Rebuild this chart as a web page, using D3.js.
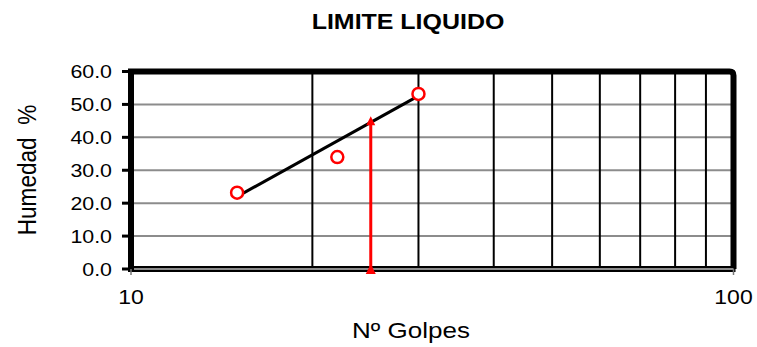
<!DOCTYPE html>
<html>
<head>
<meta charset="utf-8">
<script src="https://cdn.jsdelivr.net/npm/d3@7"></script>
<style>
  html, body { margin: 0; padding: 0; background: #fff; }
  svg { display: block; }
  text { font-family: "Liberation Sans", Arial, sans-serif; fill: #000; }
</style>
</head>
<body>
<svg id="chart" width="757" height="347"></svg>
<script>
// Ensayo de límite líquido: número de golpes vs. humedad
const golpes = [15, 22, 30];
const humedad = [23.2, 34.0, 53.2];

// Recta de fluidez (extremos)
const trendGolpes = [15, 30];
const trendHumedad = [22.0, 52.6];

// Límite líquido a 25 golpes
const llGolpes = 25;
const llHumedad = 44.0;

const yTicks = [0, 10, 20, 30, 40, 50, 60];
const yTickLabels = ["0.0", "10.0", "20.0", "30.0", "40.0", "50.0", "60.0"];
const xGrid = [20, 30, 40, 50, 60, 70, 80, 90];
const xTicks = [10, 100];
const xTickLabels = ["10", "100"];

// Text in this chart is drawn slightly wide
const SX = 1.15;

const svg = d3.select("#chart");

const x = d3.scaleLog().domain([10, 100]).range([131, 733.5]);
const y = d3.scaleLinear().domain([0, 60]).range([269, 71.5]);

// Horizontal grid (gray)
svg.append("g")
  .selectAll("line")
  .data(yTicks.filter(v => v > 0 && v < 60))
  .join("line")
  .attr("x1", x(10)).attr("x2", x(100))
  .attr("y1", d => y(d)).attr("y2", d => y(d))
  .attr("stroke", "#8c8c8c").attr("stroke-width", 2);

// Vertical grid (black)
svg.append("g")
  .selectAll("line")
  .data(xGrid)
  .join("line")
  .attr("x1", d => x(d)).attr("x2", d => x(d))
  .attr("y1", y(60)).attr("y2", y(0))
  .attr("stroke", "#000").attr("stroke-width", 2);

// Plot frame: top, left, right
svg.append("path")
  .attr("d", `M${x(10)},${y(0)} L${x(10)},${y(60)} L${x(100) - 4},${y(60)} Q${x(100)},${y(60)} ${x(100)},${y(60) + 4} L${x(100)},${y(0)}`)
  .attr("fill", "none").attr("stroke", "#000").attr("stroke-width", 6)
  .attr("stroke-linejoin", "miter");

// Bottom axis: black band with gray core
svg.append("line")
  .attr("x1", x(10) - 3).attr("x2", x(100) + 2)
  .attr("y1", y(0)).attr("y2", y(0))
  .attr("stroke", "#000").attr("stroke-width", 6);
svg.append("line")
  .attr("x1", x(10) + 3).attr("x2", x(100))
  .attr("y1", y(0)).attr("y2", y(0))
  .attr("stroke", "#8c8c8c").attr("stroke-width", 2);

// Y tick marks and labels
const yAxis = svg.append("g");
yAxis.selectAll("line")
  .data(yTicks)
  .join("line")
  .attr("x1", x(10) - 9).attr("x2", x(10))
  .attr("y1", d => y(d)).attr("y2", d => y(d))
  .attr("stroke", "#000").attr("stroke-width", 3);
yAxis.selectAll("text")
  .data(yTicks)
  .join("text")
  .attr("transform", d => `translate(112,${y(d)}) scale(${SX},1)`)
  .attr("dy", "0.35em")
  .attr("text-anchor", "end")
  .attr("font-size", 18.6)
  .text((d, i) => yTickLabels[i]);

// X tick marks and labels
const xAxis = svg.append("g");
xAxis.selectAll("line")
  .data(xTicks)
  .join("line")
  .attr("x1", d => x(d)).attr("x2", d => x(d))
  .attr("y1", y(0)).attr("y2", y(0) + 6)
  .attr("stroke", "#777").attr("stroke-width", 1.5);
xAxis.selectAll("text")
  .data(xTicks)
  .join("text")
  .attr("transform", d => `translate(${x(d)},297) scale(${SX},1)`)
  .attr("dy", "0.35em")
  .attr("text-anchor", "middle")
  .attr("font-size", 20)
  .text((d, i) => xTickLabels[i]);

// Trend line
svg.append("line")
  .attr("x1", x(trendGolpes[0])).attr("y1", y(trendHumedad[0]))
  .attr("x2", x(trendGolpes[1])).attr("y2", y(trendHumedad[1]))
  .attr("stroke", "#000").attr("stroke-width", 3);

// Liquid-limit arrow at 25 blows
const ax = x(llGolpes);
svg.append("line")
  .attr("x1", ax).attr("x2", ax)
  .attr("y1", y(0)).attr("y2", y(llHumedad))
  .attr("stroke", "#ff0000").attr("stroke-width", 3);
svg.append("path")
  .attr("d", `M${ax},${y(llHumedad) - 8} L${ax - 4.5},${y(llHumedad) + 1} L${ax + 4.5},${y(llHumedad) + 1} Z`)
  .attr("fill", "#ff0000");
svg.append("path")
  .attr("d", `M${ax},${y(0) - 5} L${ax - 5},${y(0) + 5} L${ax + 5},${y(0) + 5} Z`)
  .attr("fill", "#ff0000");

// Data points
svg.append("g")
  .selectAll("circle")
  .data(golpes.map((g, i) => [g, humedad[i]]))
  .join("circle")
  .attr("cx", d => x(d[0])).attr("cy", d => y(d[1]))
  .attr("r", 6)
  .attr("fill", "#fff").attr("stroke", "#ff0000").attr("stroke-width", 2.5);

// Title and axis titles
svg.append("text")
  .attr("transform", `translate(408,21) scale(${SX},1)`)
  .attr("dy", "0.35em")
  .attr("text-anchor", "middle")
  .attr("font-size", 21.7).attr("font-weight", "bold")
  .text("LIMITE LIQUIDO");

svg.append("text")
  .attr("transform", `translate(411,330) scale(${SX},1)`)
  .attr("dy", "0.35em")
  .attr("text-anchor", "middle")
  .attr("font-size", 22.6)
  .text("Nº Golpes");

svg.append("text")
  .attr("transform", `translate(27,170) scale(${SX},1) rotate(-90)`)
  .attr("dy", "0.35em")
  .attr("text-anchor", "middle")
  .attr("font-size", 22.6)
  .attr("xml:space", "preserve")
  .text("Humedad  %");
</script>
</body>
</html>
